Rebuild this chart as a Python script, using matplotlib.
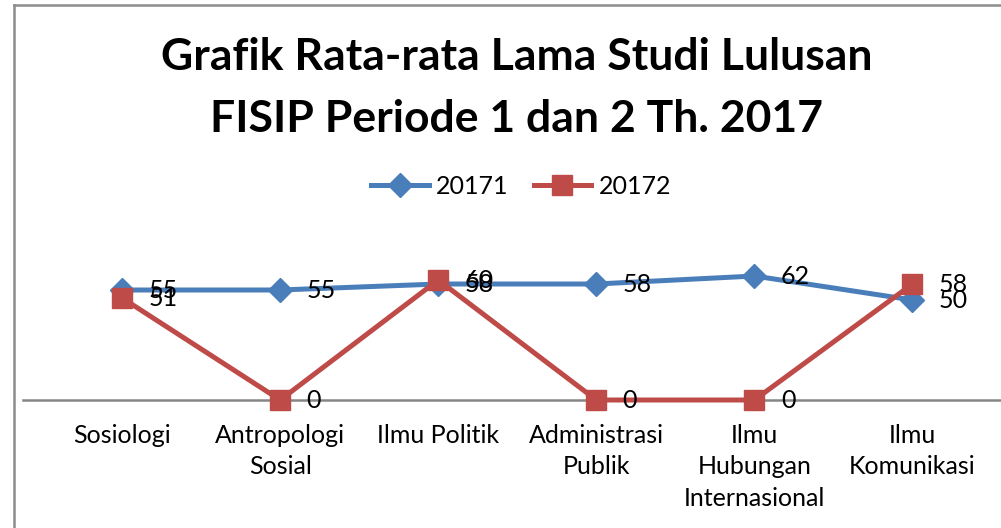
import matplotlib
matplotlib.use("Agg")
import matplotlib.pyplot as plt
from matplotlib.lines import Line2D

categories = ["Sosiologi", "Antropologi\nSosial", "Ilmu Politik", "Administrasi\nPublik",
              "Ilmu\nHubungan\nInternasional", "Ilmu\nKomunikasi"]
s20171 = [55, 55, 58, 58, 62, 50]
s20172 = [51, 0, 60, 0, 0, 58]

BLUE = "#4A7EBB"
RED = "#BE4B48"
FONT = "Lato"

W, H = 1001, 528
fig = plt.figure(figsize=(W / 100, H / 100), dpi=100)
# axes: left 23px .. right 1001px, bottom at y=400px, top at y=260px
ax = fig.add_axes([23 / W, (H - 400) / H, (1001 - 23) / W, 140 / H])

x = list(range(len(categories)))
ax.plot(x, s20171, color=BLUE, lw=3.6, marker="D", ms=12, label="20171",
        clip_on=False, zorder=3)
ax.plot(x, s20172, color=RED, lw=3.6, marker="s", ms=14, label="20172",
        clip_on=False, zorder=4)

for xi, v in zip(x, s20171):
    ax.annotate(str(v), (xi, v), xytext=(19, 0), textcoords="offset points",
                ha="left", va="center", fontsize=18, family=FONT, zorder=5)
for xi, v in zip(x, s20172):
    ax.annotate(str(v), (xi, v), xytext=(19, 0), textcoords="offset points",
                ha="left", va="center", fontsize=18, family=FONT, zorder=5)

ax.set_xlim(-0.627, 5.56)
ax.set_ylim(0, 70)
ax.set_xticks(x)
ax.set_xticklabels(categories, fontsize=18, family=FONT, linespacing=1.45)
ax.tick_params(axis="x", length=0, pad=17)
ax.set_yticks([])
for sp in ("top", "right", "left"):
    ax.spines[sp].set_visible(False)
ax.spines["bottom"].set_color("#868686")
ax.spines["bottom"].set_linewidth(1.8)
ax.patch.set_alpha(0)

fig.text(517 / W, 1 - 88 / H, "Grafik Rata-rata Lama Studi Lulusan\nFISIP Periode 1 dan 2 Th. 2017",
         ha="center", va="center", fontsize=32, fontweight="bold", family=FONT,
         linespacing=1.65)

fig.legend(loc="center", bbox_to_anchor=(521 / W, 1 - 186 / H), ncol=2, frameon=False,
           prop={"family": FONT, "size": 18}, handlelength=2.3, columnspacing=1.0,
           handletextpad=0.3)

# chart area border (left and top only, rest cropped)
fig.add_artist(Line2D([14 / W, 14 / W], [0, 1 - 5 / H], color="#8C8C8C", lw=1.8))
fig.add_artist(Line2D([14 / W, 1], [1 - 5 / H, 1 - 5 / H], color="#8C8C8C", lw=1.8))

fig.savefig("out.png", dpi=100)
